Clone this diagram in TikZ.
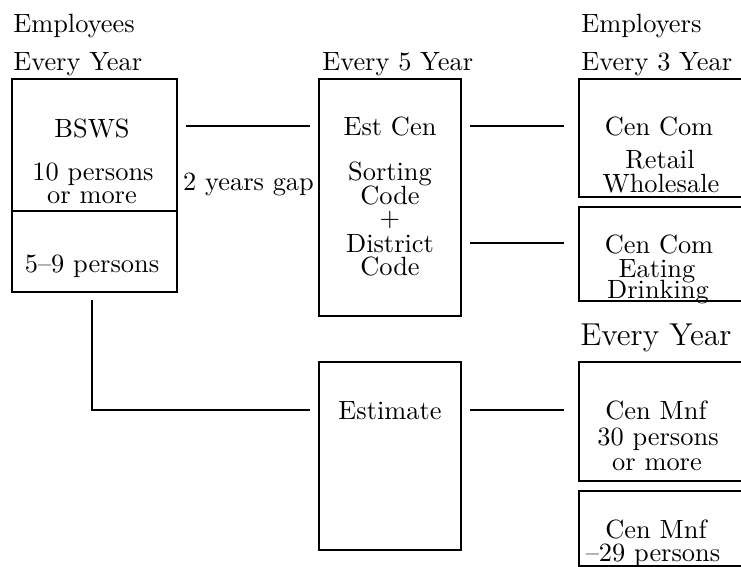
\documentclass[tikz,border=0pt]{standalone}
\usetikzlibrary{fit}

\tikzset{every picture/.style={line width=1pt}}
\tikzset{
  box/.style={draw, rectangle, inner sep=0pt, outer sep=0pt},
  lbl/.style={anchor=base, inner sep=0pt},
  head/.style={anchor=base west, inner sep=0pt},
  link/.style={shorten <=3.4pt, shorten >=3.4pt}
}

\begin{document}
\begin{tikzpicture}[x=0.379pt,y=0.379pt,yscale=-1,xscale=1]
\useasboundingbox (0,0) rectangle (741,567);

% Boxes
\node (bswsUp) [box, fit={(12,79) (177,211)}] {};
\node (bswsLow) [box, fit={(12,211) (177,292)}] {};
\node (estcen) [box, fit={(319,79) (461,316)}] {};
\node (estimate) [box, fit={(319,362) (461,550)}] {};
\node (comA) [box, fit={(579,79) (760,197)}] {};
\node (comB) [box, fit={(579,207) (760,301)}] {};
\node (mnfA) [box, fit={(579,362) (760,481)}] {};
\node (mnfB) [box, fit={(579,491) (760,566)}] {};

% Text Node
\draw (12,32) node (tEmployees) [head] {Employees};
\draw (12,70) node (tYearL) [head] {Every Year};
\draw (321,70) node (tYear5) [head] {Every 5 Year};
\draw (580,32) node (tEmployers) [head] {Employers};
\draw (580,70) node (tYear3) [head] {Every 3 Year};
\draw (579,345) node (tYearR) [head, font=\large] {Every Year};

% Text Node
\draw (92,137) node (tBSWS) [lbl] {BSWS};
\draw (93,180) node (tTen) [lbl] {10 persons};
\draw (92,203) node (tTenMore) [lbl] {or more};
\draw (92,272) node (tFive) [lbl] {5--9 persons};
\draw (248.5,190) node (tGap) [lbl] {2 years gap};

% Text Node
\draw (390,135) node (tEstCen) [lbl] {Est Cen};
\draw (390,180) node (tSorting) [lbl] {Sorting};
\draw (390,204) node (tCodeA) [lbl] {Code};
\draw (390,226) node (tPlus) [lbl] {+};
\draw (390,252) node (tDistrict) [lbl] {District};
\draw (390,275) node (tCodeB) [lbl] {Code};
\draw (390,419) node (tEstimate) [lbl] {Estimate};

% Text Node
\draw (659,135) node (tComA) [lbl] {Cen Com};
\draw (660,168) node (tRetail) [lbl] {Retail};
\draw (661,192) node (tWholesale) [lbl] {Wholesale};
\draw (659,253) node (tComB) [lbl] {Cen Com};
\draw (657,277) node (tEating) [lbl] {Eating};
\draw (658,298) node (tDrinking) [lbl] {Drinking};

% Text Node
\draw (656,419) node (tMnfA) [lbl] {Cen Mnf};
\draw (658,445) node (tThirty) [lbl] {30 persons};
\draw (657,470) node (tThirtyMore) [lbl] {or more};
\draw (656,538) node (tMnfB) [lbl] {Cen Mnf};
\draw (653,561) node (tTwentyNine) [lbl] {--29 persons};

%Straight Lines
\draw [link] (bswsUp.east |- tEstCen) -- (estcen.west |- tEstCen);
\draw [link, shorten >=5.7pt] (estcen.east |- tEstCen) -- (comA.west |- tEstCen);
\draw [link, shorten >=5.7pt] (estcen.east |- tDistrict) -- (comB.west |- tDistrict);
\draw [link, shorten >=5.7pt] (estimate.east |- tEstimate) -- (mnfA.west |- tEstimate);
%Elbow Line
\draw [link, shorten <=3pt] (bswsLow.south -| tBSWS) |- (estimate.west |- tEstimate);

\end{tikzpicture}
\end{document}
